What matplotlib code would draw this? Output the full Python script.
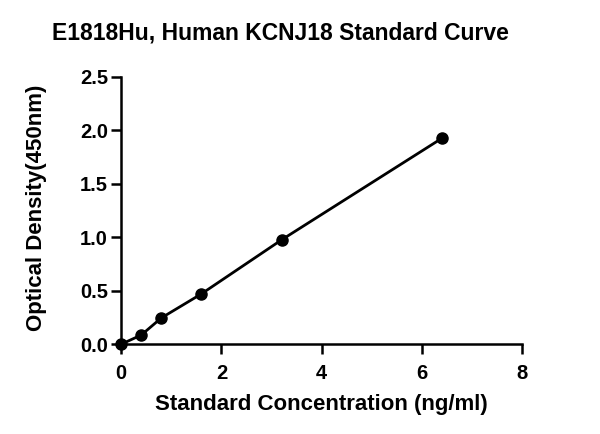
import numpy as np
import matplotlib.pyplot as plt

plt.rcParams['font.family'] = ['Liberation Sans', 'DejaVu Sans']
plt.rcParams['font.weight'] = 'bold'

# standard curve data
conc = [0, 0.4, 0.8, 1.6, 3.2, 6.4]
od = [0.0, 0.085, 0.245, 0.47, 0.975, 1.925]

fig = plt.figure(figsize=(6, 4.34), dpi=100)
ax = fig.add_axes([0.202, 0.207, 0.668, 0.616])

ax.plot(conc, od, color='black', linewidth=2, marker='o', markersize=8, clip_on=False, zorder=3)

ax.set_xlim(0, 8)
ax.set_ylim(0, 2.5)
ax.set_xticks([0, 2, 4, 6, 8])
ax.set_yticks([0, 0.5, 1.0, 1.5, 2.0, 2.5])
ax.set_yticklabels(['0.0', '0.5', '1.0', '1.5', '2.0', '2.5'])

for s in ['top', 'right']:
    ax.spines[s].set_visible(False)
for s in ['left', 'bottom']:
    ax.spines[s].set_linewidth(1.8)
ax.tick_params(width=1.8, length=7.5, labelsize=14.5, pad=2)
ax.tick_params(axis='x', pad=7)

ax.set_xlabel('Standard Concentration (ng/ml)', fontsize=16, fontweight='bold', labelpad=8)
ax.set_ylabel('Optical Density(450nm)', fontsize=16, fontweight='bold', labelpad=24, y=0.51)
fig.text(0.468, 0.924, 'E1818Hu, Human KCNJ18 Standard Curve', ha='center', va='center',
         fontsize=16.5, fontweight='bold')

fig.savefig('out.png', dpi=100)
